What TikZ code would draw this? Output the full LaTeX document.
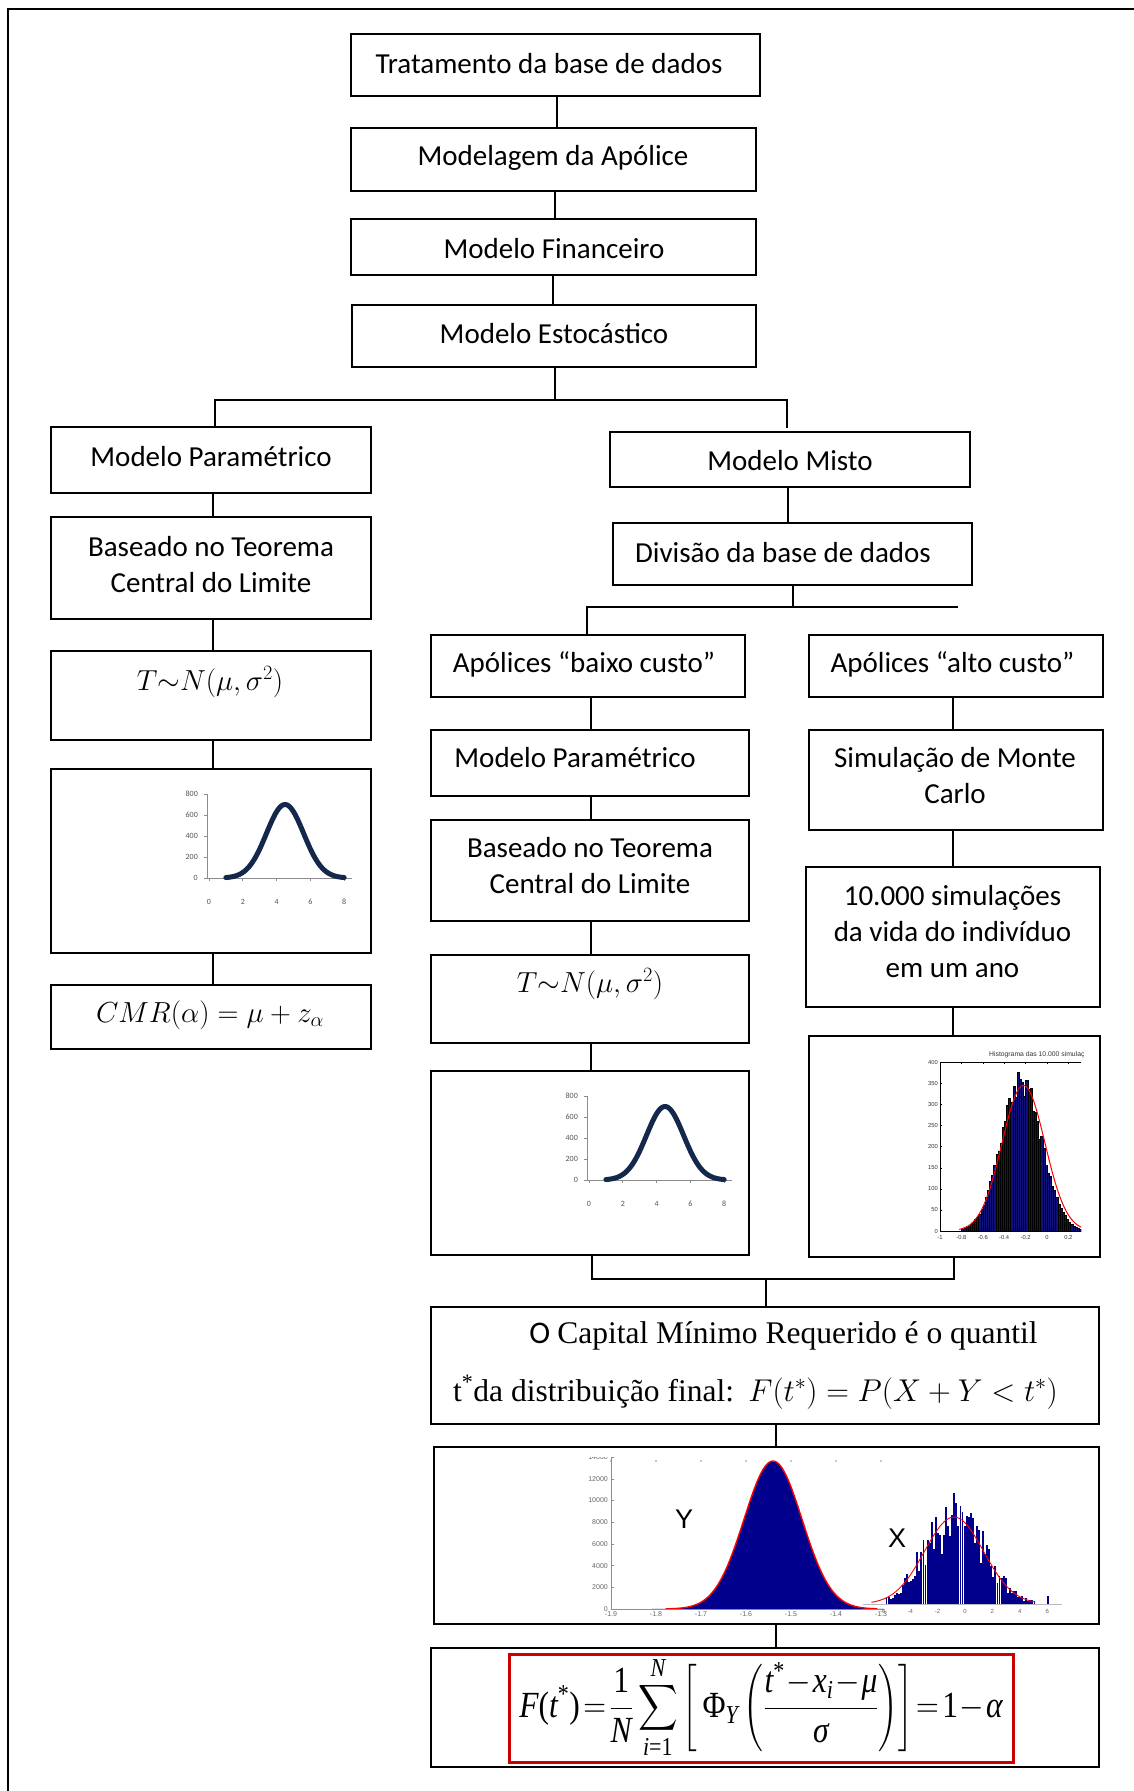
\RequirePackage{fix-cm}
\documentclass[tikz,border=0pt]{standalone}
\usepackage{amsmath}
\usepackage{graphicx}
\usepackage{fontspec}
\setmainfont{Carlito}
\newfontfamily\tnr{Liberation Serif}
\newfontfamily\arl{Liberation Sans}
\definecolor{navyc}{HTML}{14284B}
\definecolor{navyf}{HTML}{00008C}
\definecolor{hbar}{HTML}{10107A}
\definecolor{redb}{HTML}{CC0000}
\definecolor{axg}{HTML}{8C8C8C}
\definecolor{lblg}{HTML}{555555}
\newcommand\ti[1]{\text{\tnr\itshape #1}}
\newcommand\tu[1]{\text{\tnr #1}}
\newcommand\bigsum{\mathop{\vcenter{\hbox{\scalebox{1.1}{$\displaystyle\sum$}}}}\limits}
\begin{document}
\begin{tikzpicture}[x=1pt,y=-1pt]
\tikzset{
  bx/.style={draw=black,line width=1.8pt,inner sep=0pt,outer sep=0pt},
  cn/.style={draw=black,line width=1.8pt},
  txt/.style={inner sep=0pt,align=center,font=\fontsize{29}{36}\selectfont},
  lbl/.style={inner sep=0pt,font=\fontsize{8}{8}\selectfont,text=lblg},
  hl/.style={inner sep=0pt,font=\arl\fontsize{5.8}{6}\selectfont,text=black!80},
  bl/.style={inner sep=0pt,font=\arl\fontsize{7}{7}\selectfont,text=black!60},
  ax/.style={draw=axg,line width=0.8pt},
}
\useasboundingbox (0,0) rectangle (1133,1791);
\fill[white] (0,0) rectangle (1133,1791);
\draw[line width=1.8pt] (8,1800) -- (8,9) -- (1140,9);

% ---------- top chain ----------
\node[bx,minimum width=409pt,minimum height=62pt] (b1) at (555.5,65) {};
\node[bx,minimum width=405pt,minimum height=63pt] (b2) at (553.5,159.5) {};
\node[bx,minimum width=405pt,minimum height=56pt] (b3) at (553.5,247) {};
\node[bx,minimum width=404pt,minimum height=62pt] (b4) at (554,336) {};
\node[txt] (t1) at (549,64) {Tratamento da base de dados};
\node[txt] (t2) at (553,158) {Modelagem da Apólice};
\node[txt] (t3) at (554,249) {Modelo Financeiro};
\node[txt] (t4) at (554,334) {Modelo Estocástico};
\draw[cn] (b1.south -| 557,0) -- (b2.north -| 557,0);
\draw[cn] (b2.south -| 555,0) -- (b3.north -| 555,0);
\draw[cn] (b3.south -| 553,0) -- (b4.north -| 553,0);

% ---------- left column ----------
\node[bx,minimum width=320pt,minimum height=66pt] (lp1) at (211,460) {};
\node[bx,minimum width=320pt,minimum height=102pt] (lp2) at (211,568) {};
\node[bx,minimum width=320pt,minimum height=89pt] (lp3) at (211,695.5) {};
\node[bx,minimum width=320pt,minimum height=184pt] (lp4) at (211,861) {};
\node[bx,minimum width=320pt,minimum height=64pt] (lp5) at (211,1017) {};
\node[txt] (tl1) at (211,457) {Modelo Paramétrico};
\node[txt] (tl2) at (211,565) {Baseado no Teorema\\Central do Limite};
\node[txt] (tl3) at (210,682) {$T{\sim}N(\mu,\sigma^2)$};
\node[txt] (tl5) at (210,1015) {$CMR(\alpha)=\mu+z_{\alpha}$};
\foreach \a/\b in {lp1/lp2,lp2/lp3,lp3/lp4,lp4/lp5}{
  \draw[cn] (\a.south -| 213,0) -- (\b.north -| 213,0);
}

% ---------- branch from stochastic model ----------
\coordinate (j0) at (555,400);
\coordinate (jL) at (215,400);
\coordinate (jR) at (787,400);
\coordinate (jRe) at (787,428);
\draw[cn] (b4.south -| j0) -- (j0);
\draw[cn] (lp1.north -| jL) -- (jL) -- (jR) -- (jRe);

% ---------- mixed model ----------
\node[bx,minimum width=360pt,minimum height=55pt] (mi) at (790,459.5) {};
\node[bx,minimum width=359pt,minimum height=62pt] (dv) at (792.5,554) {};
\node[txt] (tmi) at (790,461) {Modelo Misto};
\node[txt] (tdv) at (783,553) {Divisão da base de dados};
\draw[cn] (mi.south -| 788,0) -- (dv.north -| 788,0);
\coordinate (k0) at (793,607);
\coordinate (kL) at (587,607);
\coordinate (kR) at (958,607);
\draw[cn] (dv.south -| k0) -- (k0);
\draw[cn] (kR) -- (kL) -- (kL |- 0,635);

% ---------- low cost column ----------
\node[bx,minimum width=314pt,minimum height=62pt] (ba) at (588,666) {};
\node[bx,minimum width=318pt,minimum height=66pt] (rp1) at (590,763) {};
\node[bx,minimum width=318pt,minimum height=101pt] (rp2) at (590,870.5) {};
\node[bx,minimum width=318pt,minimum height=88pt] (rp3) at (590,999) {};
\node[bx,minimum width=318pt,minimum height=184pt] (rp4) at (590,1163) {};
\node[txt] (tba) at (584,664) {Apólices “baixo custo”};
\node[txt] (tr1) at (575,758) {Modelo Paramétrico};
\node[txt] (tr2) at (590,866) {Baseado no Teorema\\Central do Limite};
\node[txt] (tr3) at (590,984) {$T{\sim}N(\mu,\sigma^2)$};
\foreach \a/\b in {ba/rp1,rp1/rp2,rp2/rp3,rp3/rp4}{
  \draw[cn] (\a.south -| 591,0) -- (\b.north -| 591,0);
}

% ---------- high cost column ----------
\node[bx,minimum width=294pt,minimum height=62pt] (al) at (956,666) {};
\node[bx,minimum width=294pt,minimum height=100pt] (mc) at (956,780) {};
\node[bx,minimum width=294pt,minimum height=140pt] (sm) at (953,937) {};
\node[bx,minimum width=291pt,minimum height=221pt] (hi) at (954.5,1146.5) {};
\node[txt] (tal) at (952.5,664) {Apólices “alto custo”};
\node[txt] (tmc) at (955,776) {Simulação de Monte\\Carlo};
\node[txt] (tsm) at (952.5,932) {10.000 simulações\\da vida do indivíduo\\em um ano};
\foreach \a/\b in {al/mc,mc/sm,sm/hi}{
  \draw[cn] (\a.south -| 953,0) -- (\b.north -| 953,0);
}

% ---------- small normal charts ----------
\foreach \ox/\oy in {209/878,589/1180}{
\begin{scope}[shift={(\ox,\oy)}]
  \draw[ax] (-2,0) -- (-2,-84);
  \foreach \k/\v in {0/0,1/200,2/400,3/600,4/800}{
    \draw[ax] (-5,{-21*\k}) -- (-2,{-21*\k});
    \node[lbl,anchor=east] at (-11,{-21*\k}) {\v};
  }
  \draw[ax] (-2,0) -- (143,0);
  \foreach \k/\v in {0/0,1/2,2/4,3/6,4/8}{
    \draw[ax] ({33.8*\k},0) -- ({33.8*\k},3);
    \node[lbl] at ({33.8*\k},24) {\v};
  }
  \draw[navyc,line width=5pt,line cap=round] plot[domain=1:8,samples=80,smooth]
    ({16.9*\x},{-73.5*exp(-((\x-4.5)*(\x-4.5))/2.42)});
\end{scope}
}

% ---------- histogram of simulations ----------
\begin{scope}[shift={(1047,1231)}]
  \begin{scope}
    \clip (-107,1) rectangle (34,-170);
    \pgfmathsetseed{11}
    \foreach \i in {0,...,56}{
      \pgfmathsetmacro\xa{-0.8+0.02*\i}
      \pgfmathsetmacro\hh{147.7*exp(-((\xa+0.25)*(\xa+0.25))/0.0722)*(1+0.09*rand)}
      \filldraw[fill=hbar,draw=black,line width=0.3pt] ({107*\xa},0) rectangle ({107*\xa+2.14},{-\hh});
    }
    \draw[red,line width=1pt] plot[domain=-0.82:0.33,samples=80]
      ({107*\x},{-145.6*exp(-((\x+0.22)*(\x+0.22))/0.08)});
  \end{scope}
  \draw[black,line width=0.5pt] (34,-168.8) -- (-107,-168.8) -- (-107,0) -- (34,0);
  \foreach \k/\v in {0/0,1/50,2/100,3/150,4/200,5/250,6/300,7/350,8/400}{
    \draw[line width=0.4pt] (-107,{-21.1*\k}) -- (-105,{-21.1*\k});
    \node[hl,anchor=east] at (-109,{-21.1*\k}) {\v};
  }
  \foreach \k/\v in {0/-1,1/-0.8,2/-0.6,3/-0.4,4/-0.2,5/0,6/0.2}{
    \draw[line width=0.4pt] ({-107+21.4*\k},0) -- ({-107+21.4*\k},-2);
    \draw[line width=0.4pt] ({-107+21.4*\k},-168.8) -- ({-107+21.4*\k},-166.8);
    \node[hl] at ({-107+21.4*\k},6) {\v};
  }
  \begin{scope}
    \clip (-80,-190) rectangle (36,-160);
    \node[hl,anchor=west,font=\arl\fontsize{6.8}{7}\selectfont] at (-58,-176) {Histograma das 10.000 simulações};
  \end{scope}
\end{scope}

% ---------- join ----------
\coordinate (m0) at (766,1279);
\coordinate (mL) at (592,1279);
\coordinate (mR) at (954,1279);
\draw[cn] (rp4.south -| mL) -- (mL) -- (mR) -- (hi.south -| mR);

% ---------- final boxes ----------
\node[bx,minimum width=668pt,minimum height=117pt] (fin) at (765,1365.5) {};
\node[bx,minimum width=665pt,minimum height=177pt] (big) at (766.5,1535.5) {};
\node[bx,minimum width=668pt,minimum height=119pt] (frm) at (765,1707.5) {};
\draw[cn] (m0) -- (fin.north -| m0);
\draw[cn] (fin.south -| 776,0) -- (big.north -| 776,0);
\draw[cn] (big.south -| 776,0) -- (frm.north -| 776,0);

\node[inner sep=0pt,font=\fontsize{31.5}{40}\selectfont] (tf1) at (783.5,1336)
  {O {\tnr Capital Mínimo Requerido é o quantil}};
\node[inner sep=0pt,font=\fontsize{31.5}{40}\selectfont] (tf2) at (755.5,1392)
  {{\tnr t\textsuperscript{*}da distribuição final:}\ \ $F(t^{*})=P(X+Y<t^{*})$};

% ---------- big chart ----------
\begin{scope}
  \clip (436,1457) rectangle (1097,1622);
  \fill[navyf] plot[domain=-5.6:3.8,samples=120] ({773+29*\x},{1609-148*exp(-\x*\x/2)})
    -- (883,1609) -- (611,1609) -- cycle;
  \draw[red,line width=1.4pt] plot[domain=-3.7:3.6,samples=90] ({773+29*\x},{1609-148*exp(-\x*\x/2)});
  \draw[axg,line width=0.6pt] (611,1450) -- (611,1609) -- (884,1609);
  \foreach \k/\v in {0/0,1/2000,2/4000,3/6000,4/8000,5/10000,6/12000,7/14000}{
    \draw[axg,line width=0.5pt] (611,{1609-21.7*\k}) -- (614,{1609-21.7*\k});
    \node[bl,anchor=east] at (608,{1609-21.7*\k}) {\v};
  }
  \foreach \k/\v in {0/-1.9,1/-1.8,2/-1.7,3/-1.6,4/-1.5,5/-1.4,6/-1.3}{
    \node[bl] at ({611+45*\k},1614) {\v};
    \fill[axg] ({611+45*\k},1461) circle (0.9);
  }
  % X distribution
  \draw[axg!60,line width=0.6pt] (863,1604) -- (1062,1604);
  \pgfmathsetseed{5}
  \foreach \i in {0,...,72}{
    \pgfmathsetmacro\va{-5.8+0.15*\i}
    \pgfmathsetmacro\hh{max(1,87*exp(-((\va+0.8)*(\va+0.8))/9.245)*(1+0.38*rand))}
    \fill[navyf] ({965+13.7*\va},1604) rectangle ({965+13.7*\va+1.9},{1604-\hh});
  }
  \fill[navyf] (1047,1604) rectangle (1049,1596);
  \draw[red,line width=0.9pt] plot[domain=-2.8:2.75,samples=80] ({954+29.5*\x},{1604-87*exp(-\x*\x/2)});
  \foreach \v in {-6,-4,-2,0,2,4,6}{
    \node[bl,font=\arl\fontsize{6}{6}\selectfont] at ({965+13.7*(\v)},1611) {\v};
  }
\end{scope}
\node[inner sep=0pt,font=\arl\fontsize{27}{27}\selectfont] (ly) at (684,1519) {Y};
\node[inner sep=0pt,font=\arl\fontsize{27}{27}\selectfont] (lx) at (897,1538) {X};

% ---------- formula ----------
\node[draw=redb,line width=3pt,minimum width=504pt,minimum height=108pt,inner sep=0pt] (rb) at (761,1708)
 {\fontsize{31.5}{38}\selectfont \thickmuskip=2mu \medmuskip=1mu
  \scalebox{1}[1.17]{$\displaystyle \ti{F}\tu{(}\ti{t}^{\tu{*}}\tu{)}=\frac{\tu{1}}{\ti{N}}\bigsum_{\ti{i}\tu{=1}}^{\ti{N}}\left[\,\tu{Φ}_{\ti{Y}}\left(\frac{\ti{t}^{\tu{*}}-\ti{x}_{\ti{i}}-\ti{μ}}{\ti{σ}}\right)\right]=\tu{1}-\ti{α}$}};
\end{tikzpicture}
\end{document}
